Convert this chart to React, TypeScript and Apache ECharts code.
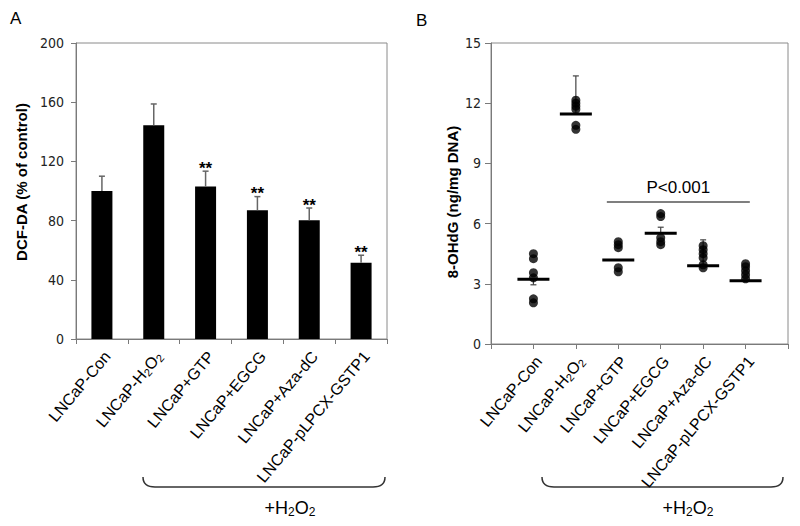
import React, { useEffect, useRef } from "react";
import * as echarts from "echarts";

// ---------- data ----------
const categories = [
  "LNCaP-Con",
  "LNCaP-H2O2",
  "LNCaP+GTP",
  "LNCaP+EGCG",
  "LNCaP+Aza-dC",
  "LNCaP-pLPCX-GSTP1",
];

// Panel A: DCF-DA (% of control)
const dcfMean = [100, 144.5, 103, 87, 80.3, 51.6];
const dcfSd = [10, 14.3, 10.4, 9.2, 8.2, 5];
const dcfMarks = ["", "", "**", "**", "**", "**"];
const dcfTicks = [0, 40, 80, 120, 160, 200];

// Panel B: 8-OHdG (ng/mg DNA), individual points per group
const ohdgCon = [4.5, 4.25, 3.55, 3.3, 2.25, 2.05];
const ohdgH2O2 = [12.15, 12.0, 11.85, 11.7, 10.9, 10.7];
const ohdgGTP = [5.1, 4.95, 4.8, 3.8, 3.6];
const ohdgEGCG = [6.5, 6.35, 5.3, 5.1, 4.95];
const ohdgAza = [4.9, 4.7, 4.5, 4.3, 3.95, 3.8];
const ohdgGSTP1 = [4.0, 3.85, 3.65, 3.45, 3.25];
const ohdgPoints = [ohdgCon, ohdgH2O2, ohdgGTP, ohdgEGCG, ohdgAza, ohdgGSTP1];
const ohdgMean = [3.23, 11.46, 4.19, 5.52, 3.9, 3.15];
const ohdgErr = [-0.28, 1.9, 0, 0.3, 1.29, 0];
const ohdgTicks = [0, 3, 6, 9, 12, 15];

const pValueText = "P<0.001";
const pSpan = [2.73, 6.1];
const pLevel = 7.08;

const yTitleA = "DCF-DA (% of control)";
const yTitleB = "8-OHdG (ng/mg DNA)";
const panelA = "A";
const panelB = "B";

// ---------- helpers ----------
const SANS = "'Liberation Sans', Arial, Helvetica, sans-serif";
const NARROW = "'Liberation Sans Narrow', 'Arial Narrow', 'DejaVu Sans Condensed', sans-serif";
const LABEL_ROTATE = 50;

const fmtLabel = (s: string) =>
  s.includes("H2O2")
    ? `{n|${s.replace("H2O2", "H")}}{s|2}{n|O}{s|2}`
    : `{n|${s}}`;

const labelRich = {
  n: { fontSize: 16, fontFamily: SANS, color: "#000", lineHeight: 18 },
  s: {
    fontSize: 11,
    fontFamily: SANS,
    color: "#000",
    lineHeight: 11,
    verticalAlign: "bottom",
    padding: [9, 0, 0, 0],
  },
};

const h2o2Rich = {
  n: { fontSize: 18, fontFamily: SANS, fill: "#000", lineHeight: 20 },
  s: {
    fontSize: 12,
    fontFamily: SANS,
    fill: "#000",
    lineHeight: 12,
    verticalAlign: "bottom",
    padding: [10, 0, 0, 0],
  },
};

const AXIS_COLOR = "#7a7a7a";

function bracket(x0: number, x1: number, yTop: number, yBot: number) {
  const r = 12;
  const st = { stroke: "#333", lineWidth: 1.5, fill: "none" };
  return [
    {
      type: "bezierCurve",
      shape: { x1: x0, y1: yTop, cpx1: x0, cpy1: yBot, x2: x0 + r, y2: yBot },
      style: st,
    },
    { type: "line", shape: { x1: x0 + r, y1: yBot, x2: x1 - r, y2: yBot }, style: st },
    {
      type: "bezierCurve",
      shape: { x1: x1 - r, y1: yBot, cpx1: x1, cpy1: yBot, x2: x1, y2: yTop },
      style: st,
    },
  ];
}

export default function App() {
  const ref = useRef<HTMLDivElement>(null);

  useEffect(() => {
    if (!ref.current) return;
    const chart = echarts.init(ref.current, null, { renderer: "svg" });

    const scatterData: number[][] = [];
    ohdgPoints.forEach((pts, g) => pts.forEach((v) => scatterData.push([g + 1, v])));

    const option: any = {
      animation: false,
      backgroundColor: "#fff",
      textStyle: { fontFamily: SANS },
      grid: [
        {
          left: 76, top: 43, width: 311, height: 296,
          show: true, borderColor: "#8a8a8a", borderWidth: 1, backgroundColor: "transparent",
        },
        {
          left: 491, top: 43, width: 297, height: 301,
          show: true, borderColor: "#8a8a8a", borderWidth: 1, backgroundColor: "transparent",
        },
      ],
      xAxis: [
        {
          gridIndex: 0,
          type: "category",
          data: categories,
          boundaryGap: true,
          axisLine: { lineStyle: { color: AXIS_COLOR, width: 1 } },
          axisTick: { show: true, length: 5, lineStyle: { color: AXIS_COLOR } },
          axisLabel: {
            interval: 0,
            rotate: LABEL_ROTATE,
            margin: 10,
            padding: [14, 0, 0, 0],
            formatter: (v: string) => fmtLabel(v),
            rich: labelRich,
          },
        },
        {
          gridIndex: 1,
          type: "value",
          min: 0,
          max: categories.length + 1,
          interval: 1,
          splitLine: { show: false },
          axisLine: { lineStyle: { color: AXIS_COLOR, width: 1 } },
          axisTick: { show: true, length: 5, lineStyle: { color: AXIS_COLOR } },
          axisLabel: {
            rotate: LABEL_ROTATE,
            margin: 10,
            padding: [14, 0, 0, 0],
            showMinLabel: true,
            showMaxLabel: true,
            formatter: (v: number) =>
              v >= 1 && v <= categories.length ? fmtLabel(categories[v - 1]) : "",
            rich: labelRich,
          },
        },
      ],
      yAxis: [
        {
          gridIndex: 0,
          type: "value",
          min: dcfTicks[0],
          max: dcfTicks[dcfTicks.length - 1],
          interval: dcfTicks[1] - dcfTicks[0],
          splitLine: { show: false },
          axisLine: { show: true, lineStyle: { color: AXIS_COLOR, width: 1 } },
          axisTick: { show: true, length: 5, lineStyle: { color: AXIS_COLOR } },
          axisLabel: { margin: 12, fontSize: 14, fontFamily: NARROW, color: "#222" },
        },
        {
          gridIndex: 1,
          type: "value",
          min: ohdgTicks[0],
          max: ohdgTicks[ohdgTicks.length - 1],
          interval: ohdgTicks[1] - ohdgTicks[0],
          splitLine: { show: false },
          axisLine: { show: true, lineStyle: { color: AXIS_COLOR, width: 1 } },
          axisTick: { show: true, length: 6, lineStyle: { color: AXIS_COLOR } },
          axisLabel: { margin: 10, fontSize: 14, fontFamily: NARROW, color: "#222" },
        },
      ],
      series: [
        {
          type: "bar",
          xAxisIndex: 0,
          yAxisIndex: 0,
          data: dcfMean,
          barWidth: 21,
          itemStyle: { color: "#000" },
          z: 2,
        },
        {
          type: "custom",
          xAxisIndex: 0,
          yAxisIndex: 0,
          z: 3,
          data: dcfMean.map((m, i) => [i, m, m + dcfSd[i]]),
          renderItem: (params: any, api: any) => {
            const i = api.value(0);
            const base = api.coord([i, api.value(1)]);
            const top = api.coord([i, api.value(2)]);
            const children: any[] = [
              {
                type: "line",
                shape: { x1: base[0], y1: base[1], x2: top[0], y2: top[1] },
                style: { stroke: "#666", lineWidth: 1.5 },
              },
              {
                type: "line",
                shape: { x1: top[0] - 3, y1: top[1], x2: top[0] + 3, y2: top[1] },
                style: { stroke: "#666", lineWidth: 1.5 },
              },
            ];
            const mark = dcfMarks[params.dataIndex];
            if (mark) {
              children.push({
                type: "text",
                style: {
                  text: mark,
                  x: top[0],
                  y: top[1] - 3,
                  align: "center",
                  verticalAlign: "middle",
                  font: `bold 17px ${SANS}`,
                  fill: "#000",
                },
              });
            }
            return { type: "group", children };
          },
        },
        {
          type: "custom",
          xAxisIndex: 1,
          yAxisIndex: 1,
          z: 2,
          data: ohdgMean.map((m, i) => [i + 1, m, ohdgErr[i]]),
          renderItem: (params: any, api: any) => {
            const x = api.value(0);
            const m = api.value(1);
            const e = api.value(2);
            if (!e) return { type: "group", children: [] };
            const pm = api.coord([x, m]);
            const pe = api.coord([x, m + e]);
            return {
              type: "group",
              children: [
                {
                  type: "line",
                  shape: { x1: pm[0], y1: pm[1], x2: pe[0], y2: pe[1] },
                  style: { stroke: "#444", lineWidth: 1.2 },
                },
                {
                  type: "line",
                  shape: { x1: pe[0] - 3, y1: pe[1], x2: pe[0] + 3, y2: pe[1] },
                  style: { stroke: "#444", lineWidth: 1.2 },
                },
              ],
            };
          },
        },
        {
          type: "scatter",
          xAxisIndex: 1,
          yAxisIndex: 1,
          z: 3,
          symbol: "circle",
          symbolSize: 9,
          itemStyle: { color: "#000" },
          data: scatterData,
          markLine: {
            silent: true,
            symbol: "none",
            lineStyle: { color: "#555", width: 1.5, type: "solid" },
            label: {
              show: true,
              position: "insideMiddleTop",
              distance: 6,
              formatter: pValueText,
              fontSize: 17,
              fontFamily: SANS,
              color: "#000",
            },
            data: [[{ coord: [pSpan[0], pLevel] }, { coord: [pSpan[1], pLevel] }]],
          },
        },
        {
          type: "custom",
          xAxisIndex: 1,
          yAxisIndex: 1,
          z: 4,
          data: ohdgMean.map((m, i) => [i + 1, m]),
          renderItem: (params: any, api: any) => {
            const p = api.coord([api.value(0), api.value(1)]);
            return {
              type: "line",
              shape: { x1: p[0] - 16, y1: p[1], x2: p[0] + 16, y2: p[1] },
              style: { stroke: "#000", lineWidth: 3 },
            };
          },
        },
      ],
      graphic: [
        {
          type: "text",
          left: 10,
          top: 10,
          style: { text: panelA, font: `17px ${SANS}`, fill: "#000" },
        },
        {
          type: "text",
          left: 416,
          top: 12,
          style: { text: panelB, font: `17px ${SANS}`, fill: "#000" },
        },
        {
          type: "text",
          x: 21,
          y: 182,
          rotation: Math.PI / 2,
          style: {
            text: yTitleA,
            font: `bold 15px ${SANS}`,
            fill: "#000",
            align: "center",
            verticalAlign: "middle",
          },
        },
        {
          type: "text",
          x: 452,
          y: 202,
          rotation: Math.PI / 2,
          style: {
            text: yTitleB,
            font: `bold 15px ${SANS}`,
            fill: "#000",
            align: "center",
            verticalAlign: "middle",
          },
        },
        ...bracket(143, 385, 477, 487),
        ...bracket(542, 783, 477, 487),
        {
          type: "text",
          x: 290,
          y: 508,
          style: {
            text: "{n|+H}{s|2}{n|O}{s|2}",
            rich: h2o2Rich,
            align: "center",
            verticalAlign: "middle",
          },
        },
        {
          type: "text",
          x: 688,
          y: 508,
          style: {
            text: "{n|+H}{s|2}{n|O}{s|2}",
            rich: h2o2Rich,
            align: "center",
            verticalAlign: "middle",
          },
        },
      ],
    };

    chart.setOption(option);
    return () => chart.dispose();
  }, []);

  return (
    <div
      ref={ref}
      style={{ position: "absolute", left: 0, top: 0, width: 800, height: 526, background: "#fff" }}
    />
  );
}
